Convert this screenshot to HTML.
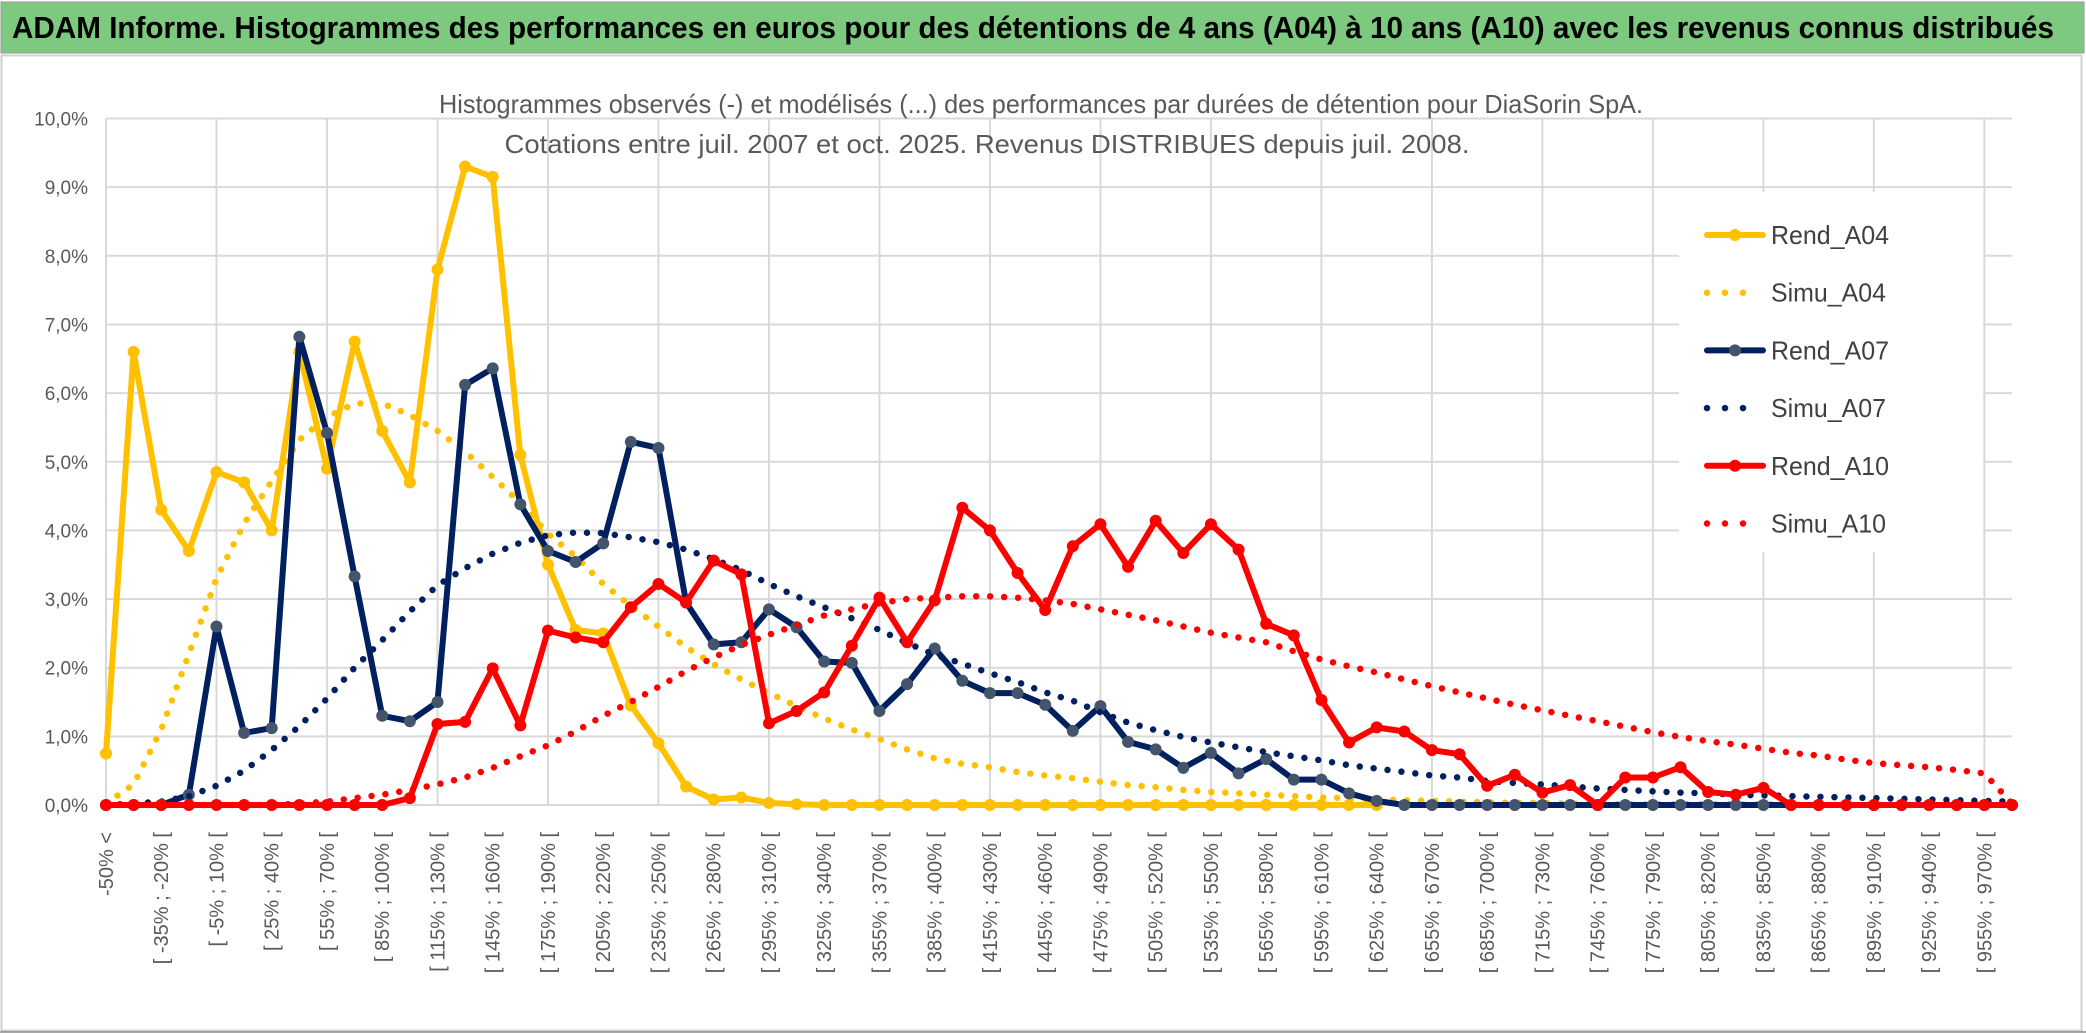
<!DOCTYPE html>
<html>
<head>
<meta charset="utf-8">
<style>
html,body{margin:0;padding:0;background:#fff;}
svg{display:block;}
</style>
</head>
<body>
<svg id="chart" xmlns="http://www.w3.org/2000/svg" width="2086" height="1033" viewBox="0 0 2086 1033" font-family="'Liberation Sans', sans-serif">
  <rect x="0" y="0" width="2086" height="1033" fill="#ffffff"/>
  <rect x="1" y="2" width="2083" height="51" fill="#7dc97f"/>
  <rect x="1" y="2" width="2083" height="51" fill="none" stroke="#9a9a9a" stroke-width="1"/>
  <text x="12" y="38" font-size="31" font-weight="bold" fill="#000" textLength="2042" lengthAdjust="spacingAndGlyphs">ADAM Informe. Histogrammes des performances en euros pour des détentions de 4 ans (A04) à 10 ans (A10) avec les revenus connus distribués</text>
  <rect x="1.5" y="55.5" width="2080" height="975" fill="#fff" stroke="#d0d0d0" stroke-width="2"/>
  <line x1="0" y1="1032" x2="2086" y2="1032" stroke="#8a8a8a" stroke-width="1.5"/>
  <g id="grid"></g>
  <text x="1041" y="113" font-size="26" fill="#595959" text-anchor="middle" textLength="1204" lengthAdjust="spacingAndGlyphs">Histogrammes observés (-) et modélisés (...) des performances par durées de détention pour DiaSorin SpA.</text>
  <text x="987" y="153" font-size="26" fill="#595959" text-anchor="middle" textLength="965" lengthAdjust="spacingAndGlyphs">Cotations entre juil. 2007 et oct. 2025. Revenus DISTRIBUES depuis juil. 2008.</text>
  <g id="yaxis"></g>
  <g id="xaxis"></g>
  <g id="series"></g>
  <g id="legend"></g>
</svg>
<script>
const categories = ["-50% <","[ -50% ; -35% [","[ -35% ; -20% [","[ -20% ; -5% [","[ -5% ; 10% [","[ 10% ; 25% [","[ 25% ; 40% [","[ 40% ; 55% [","[ 55% ; 70% [","[ 70% ; 85% [",
"[ 85% ; 100% [","[ 100% ; 115% [","[ 115% ; 130% [","[ 130% ; 145% [","[ 145% ; 160% [","[ 160% ; 175% [","[ 175% ; 190% [","[ 190% ; 205% [","[ 205% ; 220% [","[ 220% ; 235% [",
"[ 235% ; 250% [","[ 250% ; 265% [","[ 265% ; 280% [","[ 280% ; 295% [","[ 295% ; 310% [","[ 310% ; 325% [","[ 325% ; 340% [","[ 340% ; 355% [","[ 355% ; 370% [","[ 370% ; 385% [",
"[ 385% ; 400% [","[ 400% ; 415% [","[ 415% ; 430% [","[ 430% ; 445% [","[ 445% ; 460% [","[ 460% ; 475% [","[ 475% ; 490% [","[ 490% ; 505% [","[ 505% ; 520% [","[ 520% ; 535% [",
"[ 535% ; 550% [","[ 550% ; 565% [","[ 565% ; 580% [","[ 580% ; 595% [","[ 595% ; 610% [","[ 610% ; 625% [","[ 625% ; 640% [","[ 640% ; 655% [","[ 655% ; 670% [","[ 670% ; 685% [",
"[ 685% ; 700% [","[ 700% ; 715% [","[ 715% ; 730% [","[ 730% ; 745% [","[ 745% ; 760% [","[ 760% ; 775% [","[ 775% ; 790% [","[ 790% ; 805% [","[ 805% ; 820% [","[ 820% ; 835% [",
"[ 835% ; 850% [","[ 850% ; 865% [","[ 865% ; 880% [","[ 880% ; 895% [","[ 895% ; 910% [","[ 910% ; 925% [","[ 925% ; 940% [","[ 940% ; 955% [","[ 955% ; 970% [","> 970%"];
const yTicks = [0,1,2,3,4,5,6,7,8,9,10];
const yTickLabels = ["0,0%","1,0%","2,0%","3,0%","4,0%","5,0%","6,0%","7,0%","8,0%","9,0%","10,0%"];
const rendA04 = [0.75,6.6,4.3,3.7,4.85,4.7,4.0,6.6,4.9,6.75,5.45,4.7,7.8,9.3,9.15,5.1,3.5,2.55,2.5,1.45,0.9,0.27,0.08,0.11,0.03,0.01,0,0,0,0,0,0,0,0,0,0,0,0,0,0,0,0,0,0,0,0,0];
const simuA04 = [0.02,0.3,1.1,2.2,3.3,4.1,4.72,5.32,5.65,5.85,5.85,5.68,5.45,5.15,4.78,4.4,3.95,3.62,3.22,2.9,2.6,2.3,2.05,1.83,1.63,1.44,1.26,1.1,0.96,0.81,0.68,0.6,0.55,0.48,0.43,0.39,0.34,0.29,0.26,0.22,0.19,0.17,0.15,0.13,0.11,0.1,0.08,0.07,0.06,0.05,0.04,0.03,0.03,0.02,0.02,0.01,0.01,0.01,0.01,0.01,0.01,0.01,0,0,0,0,0,0,0,0];
const rendA07 = [0,0,0,0.15,2.6,1.05,1.12,6.82,5.42,3.33,1.3,1.22,1.5,6.12,6.36,4.38,3.7,3.54,3.81,5.29,5.2,2.95,2.34,2.37,2.85,2.59,2.09,2.07,1.37,1.76,2.28,1.81,1.63,1.63,1.46,1.08,1.44,0.92,0.81,0.54,0.76,0.46,0.67,0.37,0.37,0.17,0.06,0,0,0,0,0,0,0,0,0,0,0,0,0,0,0,0,0,0,0,0,0,0,0];
const simuA07 = [0,0.02,0.05,0.13,0.28,0.5,0.8,1.15,1.55,2.0,2.4,2.82,3.2,3.45,3.66,3.82,3.93,3.97,3.96,3.9,3.83,3.72,3.58,3.42,3.22,3.04,2.88,2.72,2.55,2.36,2.19,2.06,1.92,1.79,1.64,1.52,1.35,1.2,1.09,0.99,0.91,0.84,0.77,0.71,0.65,0.58,0.53,0.48,0.43,0.4,0.35,0.32,0.3,0.27,0.24,0.22,0.2,0.18,0.17,0.15,0.14,0.13,0.12,0.11,0.1,0.09,0.08,0.07,0.06,0.05];
const rendA10 = [0,0,0,0,0,0,0,0,0,0,0,0.1,1.18,1.21,1.99,1.16,2.54,2.44,2.37,2.88,3.22,2.95,3.56,3.36,1.19,1.37,1.64,2.32,3.02,2.37,2.98,4.33,4.0,3.38,2.84,3.77,4.09,3.47,4.14,3.67,4.09,3.72,2.64,2.47,1.53,0.91,1.13,1.07,0.8,0.74,0.28,0.44,0.18,0.29,0,0.4,0.4,0.55,0.19,0.15,0.25,0,0,0,0,0,0,0,0,0];
const simuA10 = [0,0,0,0,0,0,0,0.02,0.05,0.1,0.15,0.22,0.3,0.4,0.54,0.71,0.87,1.07,1.3,1.5,1.72,1.95,2.15,2.33,2.48,2.62,2.76,2.85,2.94,3.0,3.02,3.04,3.04,3.02,2.98,2.93,2.85,2.77,2.69,2.6,2.51,2.44,2.37,2.24,2.12,2.02,1.93,1.83,1.73,1.64,1.55,1.46,1.38,1.3,1.22,1.14,1.06,0.99,0.93,0.88,0.82,0.76,0.72,0.66,0.61,0.58,0.55,0.51,0.46,0.02];
const seriesNames = ["Rend_A04","Simu_A04","Rend_A07","Simu_A07","Rend_A10","Simu_A10"];

const NS = "http://www.w3.org/2000/svg";
const X0 = 106, X1 = 2012, Y0 = 805, Y10 = 118.5;
function xPos(i){ return X0 + (X1 - X0) * i / (categories.length - 1); }
function yPos(v){ return Y0 - (Y0 - Y10) * v / 10; }
function mk(tag, parent){ const e = document.createElementNS(NS, tag); parent.appendChild(e); return e; }

const grid = document.getElementById('grid');
yTicks.forEach(function(t){
  const l = mk('line', grid);
  
  
  l.setAttribute('x1', X0); l.setAttribute('x2', X1);
  l.setAttribute('y1', yPos(t)); l.setAttribute('y2', yPos(t));
  l.setAttribute('stroke', '#d9d9d9'); l.setAttribute('stroke-width', '2');
});
for (let i = 0; i < categories.length; i += 4) {
  const l = mk('line', grid);
  
  
  l.setAttribute('x1', xPos(i)); l.setAttribute('x2', xPos(i));
  l.setAttribute('y1', Y10); l.setAttribute('y2', Y0);
  l.setAttribute('stroke', '#d9d9d9'); l.setAttribute('stroke-width', '2');
}
const ya = document.getElementById('yaxis');
yTicks.forEach(function(t, k){
  const tx = mk('text', ya);
  
  
  tx.setAttribute('x', 88); tx.setAttribute('y', yPos(t) + 7);
  tx.setAttribute('text-anchor', 'end'); tx.setAttribute('font-size', '19');
  tx.setAttribute('fill', '#595959');
  tx.textContent = yTickLabels[k];
});
const xa = document.getElementById('xaxis');
categories.forEach(function(c, i){
  if (i % 2 !== 0) return;
  const tx = mk('text', xa);
  
  
  const x = xPos(i) + 7, y = 832;
  tx.setAttribute('x', x); tx.setAttribute('y', y);
  tx.setAttribute('transform', 'rotate(-90 ' + x + ' ' + y + ')');
  tx.setAttribute('text-anchor', 'end'); tx.setAttribute('font-size', '20');
  tx.setAttribute('fill', '#595959');
  tx.textContent = c;
});
const sg = document.getElementById('series');
function pts(arr){ return arr.map(function(v, i){ return xPos(i).toFixed(1) + ',' + yPos(v).toFixed(1); }).join(' '); }
function solid(arr, color, markerColor, name){
  const p = mk('polyline', sg);
  
  
  p.setAttribute('points', pts(arr)); p.setAttribute('fill', 'none');
  p.setAttribute('stroke', color); p.setAttribute('stroke-width', '6');
  p.setAttribute('stroke-linejoin', 'round'); p.setAttribute('stroke-linecap', 'round');
  arr.forEach(function(v, i){
    const c = mk('circle', sg);
    
    
    c.setAttribute('cx', xPos(i)); c.setAttribute('cy', yPos(v)); c.setAttribute('r', '6');
    c.setAttribute('fill', markerColor);
  });
}
function dotted(arr, color, name){
  const p = mk('polyline', sg);
  
  
  p.setAttribute('points', pts(arr)); p.setAttribute('fill', 'none');
  p.setAttribute('stroke', color); p.setAttribute('stroke-width', '6.5');
  p.setAttribute('stroke-dasharray', '0 14'); p.setAttribute('stroke-linecap', 'round');
}
solid(rendA04, '#FFC000', '#FFC000', 'rend-a04');
dotted(simuA04, '#FFC000', 'simu-a04');
solid(rendA07, '#002060', '#44546A', 'rend-a07');
dotted(simuA07, '#002060', 'simu-a07');
solid(rendA10, '#FF0000', '#FF0000', 'rend-a10');
dotted(simuA10, '#FF0000', 'simu-a10');

const lg = document.getElementById('legend');
const bg = mk('rect', lg);


bg.setAttribute('x', 1679); bg.setAttribute('y', 192); bg.setAttribute('width', 304); bg.setAttribute('height', 360);
bg.setAttribute('fill', '#fff');
const legColors = ['#FFC000','#FFC000','#002060','#002060','#FF0000','#FF0000'];
const legMarker = ['#FFC000',null,'#44546A',null,'#FF0000',null];
seriesNames.forEach(function(n, k){
  const y = 235 + 57.7 * k;
  const g = mk('g', lg);
  
  
  const l = mk('line', g);
  
  
  l.setAttribute('x1', 1707); l.setAttribute('x2', k % 2 === 0 ? 1763 : 1760);
  l.setAttribute('y1', y); l.setAttribute('y2', y);
  l.setAttribute('stroke', legColors[k]); l.setAttribute('stroke-linecap', 'round');
  if (k % 2 === 0) { l.setAttribute('stroke-width', '6'); }
  else { l.setAttribute('stroke-width', '6.5'); l.setAttribute('stroke-dasharray', '0 18'); }
  if (legMarker[k]) {
    const c = mk('circle', g);
    
    
    c.setAttribute('cx', 1735); c.setAttribute('cy', y); c.setAttribute('r', '6');
    c.setAttribute('fill', legMarker[k]);
  }
  const t = mk('text', g);
  
  
  t.setAttribute('x', 1771); t.setAttribute('y', y + 9);
  t.setAttribute('font-size', '26'); t.setAttribute('fill', '#404040');
  t.setAttribute('textLength', k % 2 === 0 ? '118' : '115');
  t.setAttribute('lengthAdjust', 'spacingAndGlyphs');
  t.textContent = n;
});
</script>
</body>
</html>
